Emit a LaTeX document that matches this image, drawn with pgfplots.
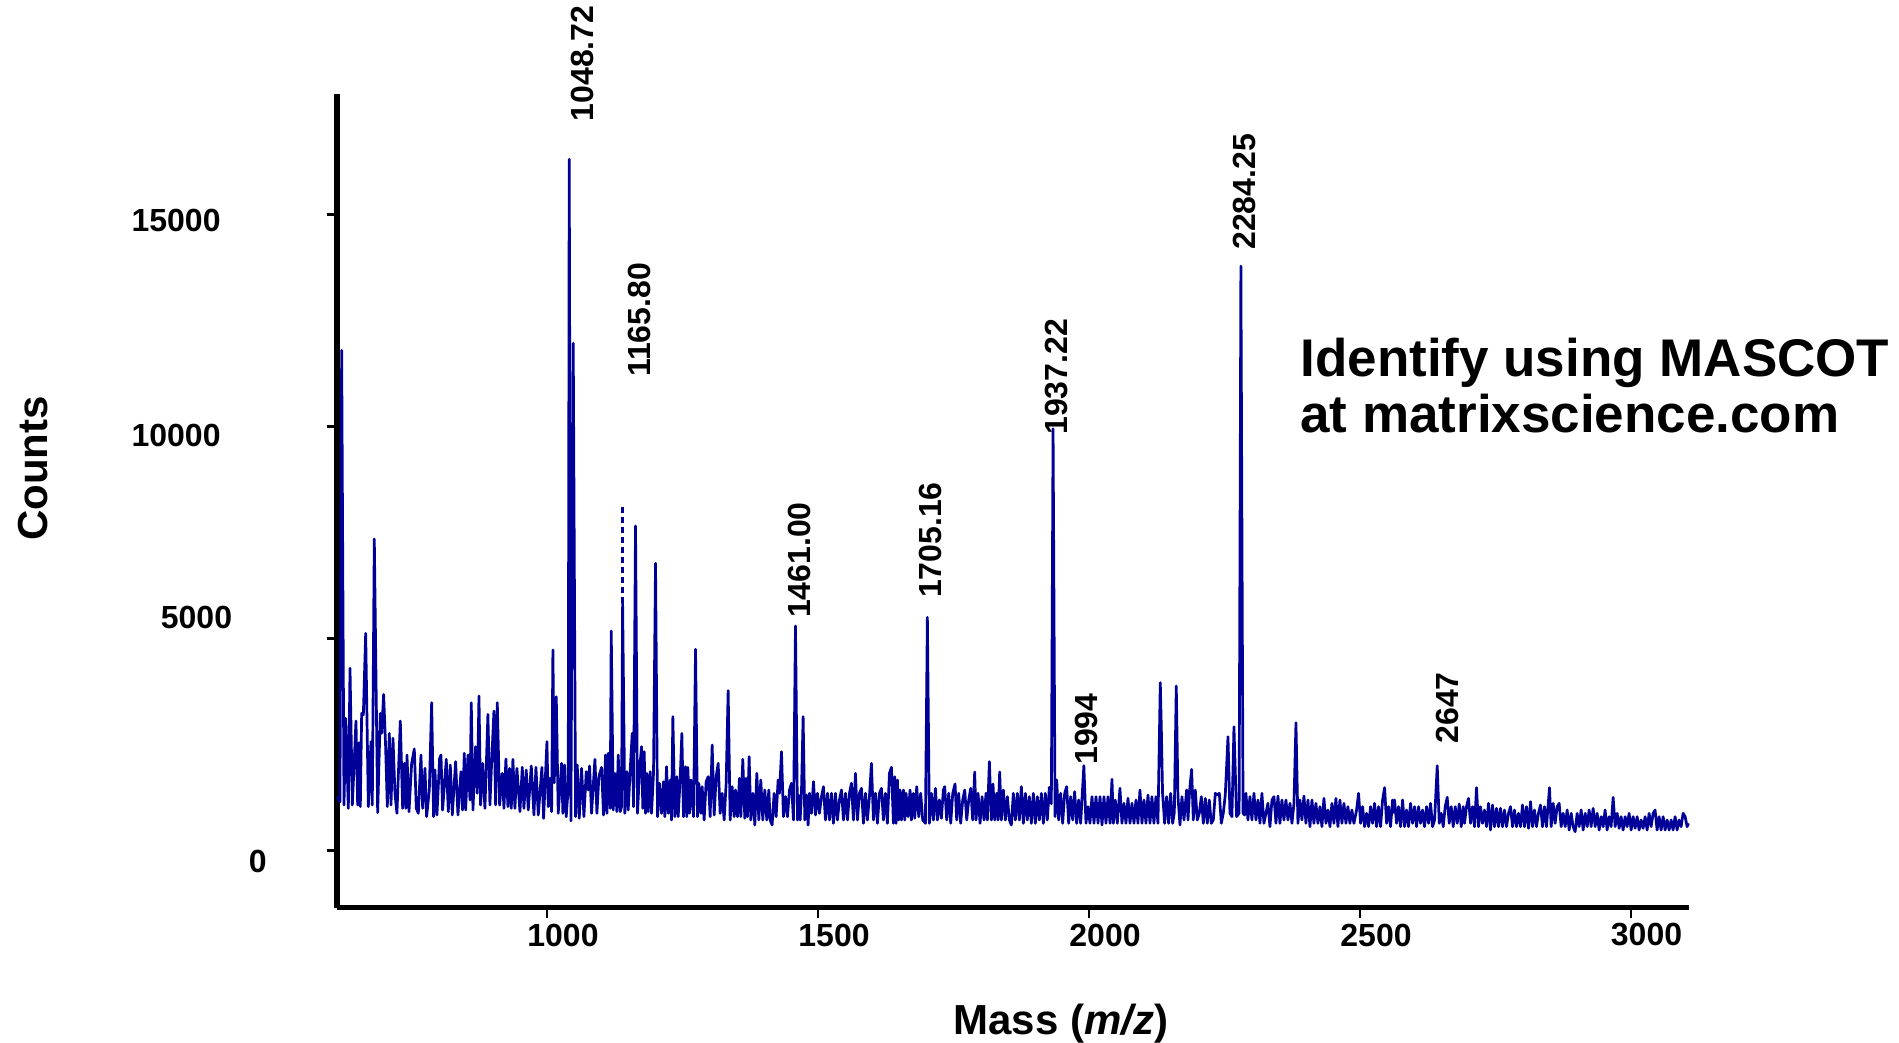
\documentclass[border=0pt]{standalone}
\usepackage{fontspec}
\setmainfont{Liberation Sans}
\usepackage{pgfplots}
\pgfplotsset{compat=1.18}
\definecolor{specblue}{RGB}{0,0,153}
\newcommand\myticklab{\fontsize{16pt}{19pt}\selectfont\bfseries}
\newcommand\myaxlab{\fontsize{21pt}{25pt}\selectfont\bfseries}
\newcommand\mynote{\fontsize{26.5pt}{32pt}\selectfont\bfseries}
\begin{document}
\begin{tikzpicture}
\useasboundingbox (0,0) rectangle (949.5pt,521.5pt);
\begin{axis}[
  at={(168.5pt,67.65pt)}, anchor=south west,
  scale only axis, width=676pt, height=406.6pt,
  xmin=612.8, xmax=3107, ymin=-1350, ymax=17837,
  axis lines=left, axis line style={-, line width=2.6pt, black},
  xtick={1000,1500,2000,2500,3000}, ytick={0,5000,10000,15000},
  scaled x ticks=false, scaled y ticks=false,
  xticklabels={}, yticklabels={},
  tick align=outside, major tick length=5pt,
  every tick/.style={black, line width=1.3pt},
  clip=false,
]
\addplot[specblue, line width=1.35pt, line join=round, mark=none] coordinates {
(613.5,1270) (618.3,1150) (621.4,11800) (625.7,1073) (628.8,3118) (633.7,994) (636.8,4298) (641.1,1073)
(647.8,3055) (650.9,1073) (653.4,2544) (655.8,1034) (658.3,3236) (661.4,3200) (665.7,5124) (670.6,1034)
(675.5,2568) (677.9,1073) (681.6,7349) (687.8,892) (692.7,3236) (695.2,2764) (698.8,3684) (702.5,2450)
(705.6,1034) (709.3,2764) (712.4,1073) (716.1,2646) (719.7,1349) (723.4,877) (729.6,3055) (733.9,994)
(737.0,2056) (740.0,994) (741.9,2253) (745.6,916) (750.5,2056) (755.4,2395) (759.1,994) (762.8,877)
(767.7,2253) (770.8,994) (775.1,1938) (778.1,798) (783.1,1427) (787.4,3488) (791.0,798) (793.5,1899)
(797.2,837) (802.1,2174) (804.6,2253) (807.6,955) (814.4,2151) (818.1,916) (821.8,2017) (825.5,837)
(831.6,2096) (835.9,837) (841.5,1860) (844.5,955) (847.6,2293) (850.1,955) (854.4,2253) (858.1,1191)
(860.5,3488) (863.6,955) (868.5,2450) (871.6,1349) (874.7,3645) (877.7,1073) (881.4,2056) (885.7,994)
(891.2,3213) (894.9,1073) (898.0,2056) (902.3,3291) (905.4,1073) (908.5,3488) (912.8,1073) (917.7,1820)
(920.8,994) (924.4,2159) (928.1,1034) (931.2,1938) (934.3,994) (937.3,2151) (941.0,994) (944.7,1938)
(950.3,916) (954.6,1962) (957.6,994) (961.9,1899) (965.6,955) (971.2,1993) (976.1,837) (979.8,1962)
(984.1,837) (990.8,1962) (993.9,759) (1000.1,2568) (1002.5,1034) (1005.6,1702) (1008.7,916) (1011.1,4731)
(1013.6,1600) (1017.3,3629) (1020.9,877) (1023.4,1349) (1027.1,2056) (1029.5,877) (1032.6,2017) (1035.7,798)
(1039.4,1500) (1041.2,16310) (1044.3,700) (1048.6,11970) (1052.9,798) (1056.0,2017) (1059.7,759) (1064.0,1938)
(1068.3,798) (1072.6,1860) (1076.3,1427) (1078.7,1993) (1082.4,877) (1088.6,2151) (1092.3,877) (1095.9,1742)
(1100.9,1962) (1104.5,837) (1108.2,2253) (1110.7,877) (1113.2,2293) (1116.8,994) (1118.7,5179) (1122.4,955)
(1125.5,1820) (1129.1,916) (1131.6,2253) (1135.3,916) (1137.7,1034) (1139.7,5832) (1143.8,877) (1147.5,1860)
(1150.0,955) (1153.7,1899) (1157.4,2764) (1159.8,1034) (1163.5,7656) (1167.2,877) (1170.9,1899) (1174.6,2450)
(1177.0,994) (1179.5,2332) (1181.9,877) (1184.4,1820) (1186.9,916) (1190.6,1860) (1193.0,877) (1196.7,1820)
(1200.4,6775) (1204.1,798) (1207.8,1585) (1211.5,877) (1215.1,1624) (1217.6,798) (1220.7,1978) (1223.8,877)
(1227.4,1663) (1229.9,719) (1232.4,3157) (1236.0,798) (1239.7,1742) (1242.2,798) (1245.9,1702) (1249.0,2764)
(1252.0,798) (1255.7,1978) (1258.2,798) (1260.0,1962) (1263.1,877) (1265.6,1663) (1270.5,798) (1274.2,4746)
(1277.8,798) (1280.3,1585) (1284.0,877) (1286.4,1506) (1290.1,719) (1293.8,1624) (1297.5,1742) (1301.2,798)
(1304.9,2489) (1308.6,837) (1312.3,1742) (1316.0,2056) (1319.6,877) (1323.3,1349) (1327.0,719) (1330.7,1585)
(1334.4,3771) (1338.1,719) (1341.8,1506) (1345.5,798) (1347.9,1427) (1351.6,798) (1355.3,1702) (1357.8,798)
(1361.4,2151) (1365.1,759) (1367.6,1702) (1370.1,798) (1373.1,2214) (1376.2,719) (1379.9,1349) (1383.6,601)
(1387.3,1820) (1391.0,719) (1394.6,1663) (1398.3,719) (1402.0,1427) (1405.7,719) (1409.4,1427) (1411.9,719)
(1415.5,601) (1419.2,1349) (1422.9,798) (1426.6,1663) (1429.1,1349) (1432.8,2332) (1436.4,798) (1440.1,1270)
(1443.8,798) (1447.5,1427) (1451.2,1585) (1454.9,719) (1458.6,5297) (1462.3,719) (1465.0,1300) (1467.2,719)
(1469.6,1349) (1472.7,3157) (1475.8,719) (1478.9,1309) (1481.9,601) (1484.4,1349) (1488.1,877) (1491.8,1624)
(1495.5,837) (1499.1,1349) (1502.8,877) (1506.5,1270) (1510.2,1506) (1513.9,719) (1517.6,1349) (1521.3,719)
(1525.0,1349) (1528.6,641) (1532.3,1349) (1536.0,719) (1539.7,1191) (1543.4,1427) (1547.1,719) (1550.8,1349)
(1554.5,719) (1558.2,1349) (1561.8,1585) (1565.5,719) (1569.2,1820) (1572.9,719) (1576.6,1349) (1580.3,1467)
(1584.0,641) (1587.7,1349) (1591.3,719) (1595.0,1270) (1598.7,2056) (1602.4,719) (1606.1,1349) (1609.8,641)
(1613.5,1349) (1617.2,1467) (1620.8,719) (1624.5,1349) (1628.2,641) (1631.9,1820) (1635.6,1962) (1639.3,641)
(1641.7,1742) (1644.2,641) (1646.6,1663) (1649.1,719) (1651.5,1427) (1654.0,719) (1657.7,1427) (1660.1,719)
(1662.6,1349) (1666.3,798) (1670.0,1427) (1672.4,719) (1676.1,1349) (1678.6,759) (1682.3,1506) (1686.0,798)
(1689.6,1349) (1693.3,719) (1698.3,641) (1701.9,5501) (1705.6,641) (1709.3,1349) (1713.0,719) (1716.7,1467)
(1720.4,719) (1724.1,1191) (1727.8,759) (1731.4,1427) (1733.9,1506) (1737.6,719) (1741.3,1349) (1745.0,641)
(1748.7,1349) (1753.0,1569) (1756.0,719) (1759.7,1349) (1763.4,641) (1767.1,1191) (1770.8,1427) (1774.5,719)
(1778.2,1191) (1781.9,1467) (1785.5,719) (1789.2,1852) (1791.7,719) (1795.4,1349) (1799.1,641) (1802.8,1270)
(1806.4,719) (1810.1,1349) (1812.6,719) (1816.3,2096) (1820.0,719) (1823.0,1569) (1826.1,719) (1829.8,1349)
(1832.3,719) (1835.3,1852) (1838.4,719) (1842.1,1427) (1845.8,719) (1849.5,1270) (1853.2,719) (1856.8,601)
(1860.5,1349) (1864.2,719) (1867.9,1349) (1871.6,719) (1875.3,1506) (1879.0,641) (1882.7,1349) (1886.3,719)
(1890.0,1270) (1893.7,641) (1897.4,1349) (1901.1,641) (1904.8,1270) (1908.5,719) (1912.2,1349) (1915.9,641)
(1919.5,1349) (1923.2,719) (1926.9,1490) (1930.6,1100) (1933.8,9950) (1937.5,800) (1940.5,1663) (1944.1,719)
(1947.8,1349) (1951.5,641) (1955.2,1349) (1958.9,1506) (1962.6,641) (1966.3,1270) (1970.0,719) (1973.6,1388)
(1977.3,641) (1981.0,1191) (1984.7,641) (1988.4,1500) (1990.6,2000) (1994.5,641) (1998.2,1034) (2001.9,641)
(2005.6,1270) (2009.3,641) (2013.0,1270) (2016.7,641) (2020.4,1270) (2024.1,601) (2027.7,1270) (2031.4,641)
(2035.1,1270) (2038.8,641) (2042.5,1679) (2045.0,641) (2048.6,1191) (2052.3,641) (2057.2,1467) (2060.9,641)
(2064.6,1112) (2068.3,641) (2072.0,1230) (2075.7,641) (2079.4,1112) (2083.1,641) (2086.7,1191) (2090.4,641)
(2094.1,1427) (2097.8,641) (2101.5,1191) (2105.2,641) (2108.9,1309) (2112.6,641) (2116.2,1270) (2119.9,641)
(2123.6,1270) (2127.3,641) (2131.6,3960) (2133.5,2900) (2135.8,1349) (2139.6,641) (2143.3,1270) (2147.0,641)
(2150.7,1349) (2154.4,641) (2157.5,900) (2161.1,3881) (2164.2,1270) (2167.9,601) (2171.6,1270) (2175.3,719)
(2180.2,1427) (2182.7,719) (2185.8,1427) (2189.4,1915) (2192.5,719) (2196.2,1427) (2199.9,719) (2203.6,877)
(2207.3,1270) (2211.0,641) (2214.7,1230) (2218.3,641) (2222.0,1191) (2225.7,641) (2229.4,719) (2233.1,1349)
(2236.8,1309) (2240.5,1349) (2244.2,641) (2247.8,877) (2251.5,1309) (2256.5,2686) (2260.1,877) (2263.8,798)
(2267.5,2921) (2272.4,798) (2277.0,877) (2280.3,13790) (2284.3,877) (2287.2,837) (2289.6,1349) (2293.3,719)
(2297.0,1270) (2300.7,719) (2304.4,1349) (2308.1,719) (2311.8,1191) (2315.5,641) (2319.1,1349) (2322.8,641)
(2326.5,877) (2330.2,1112) (2333.9,562) (2337.6,1191) (2341.3,1270) (2345.0,641) (2348.7,1286) (2352.3,641)
(2356.0,1191) (2359.7,719) (2363.4,1191) (2367.1,719) (2370.8,1112) (2374.5,641) (2378.2,1112) (2381.9,3016)
(2385.5,641) (2389.2,1191) (2392.9,719) (2396.6,1286) (2400.3,641) (2404.0,1191) (2407.7,562) (2411.4,1191)
(2415.0,641) (2418.7,1112) (2422.4,641) (2426.1,1034) (2429.8,562) (2433.5,1230) (2437.2,641) (2440.9,955)
(2444.6,562) (2448.2,1112) (2451.9,641) (2455.6,1230) (2459.3,562) (2463.0,1191) (2466.7,641) (2470.4,1112)
(2474.1,641) (2477.7,1034) (2481.4,641) (2485.1,955) (2488.8,641) (2493.7,955) (2497.4,1349) (2501.1,641)
(2504.8,1034) (2508.5,562) (2512.2,877) (2515.9,562) (2519.5,1034) (2523.2,641) (2526.9,1112) (2530.6,562)
(2534.3,1034) (2538.0,562) (2541.7,1191) (2545.4,1482) (2549.1,641) (2552.7,1034) (2556.4,562) (2560.1,1191)
(2562.0,900) (2563.8,1191) (2567.5,641) (2571.2,1034) (2574.9,562) (2578.6,1191) (2582.3,562) (2585.9,955)
(2589.6,562) (2593.3,1112) (2597.0,641) (2600.7,1034) (2604.4,562) (2608.1,1034) (2611.8,641) (2615.4,955)
(2619.1,562) (2622.8,1034) (2626.5,641) (2630.2,1112) (2633.9,562) (2637.6,719) (2642.5,2001) (2646.2,641)
(2649.9,877) (2653.6,562) (2657.2,1034) (2660.9,1254) (2664.6,641) (2668.3,1034) (2672.0,562) (2675.7,1034)
(2679.4,641) (2683.1,1097) (2686.8,562) (2690.4,1034) (2692.8,641) (2696.5,1034) (2700.2,1230) (2703.9,641)
(2707.6,1034) (2711.3,562) (2715.0,1482) (2718.7,562) (2722.3,1034) (2726.0,641) (2729.7,955) (2733.4,562)
(2737.1,1112) (2740.8,483) (2744.5,1073) (2748.2,562) (2751.9,994) (2755.5,562) (2759.2,994) (2762.9,562)
(2766.6,955) (2770.3,562) (2774.0,877) (2777.7,1034) (2781.4,562) (2785.0,955) (2788.7,562) (2792.4,877)
(2796.1,562) (2799.8,1073) (2803.5,562) (2807.2,1034) (2810.9,523) (2814.6,1152) (2818.2,562) (2821.9,955)
(2825.6,562) (2829.3,877) (2833.0,1073) (2836.7,562) (2840.4,1034) (2844.1,562) (2849.6,1482) (2852.7,562)
(2856.4,1112) (2860.0,641) (2863.7,1034) (2867.4,1112) (2871.1,562) (2874.8,877) (2878.5,562) (2882.2,955)
(2885.9,483) (2889.6,877) (2893.2,562) (2896.9,444) (2900.6,877) (2904.3,562) (2908.0,955) (2911.7,483)
(2915.4,877) (2919.1,562) (2922.7,955) (2926.4,562) (2930.1,994) (2933.8,562) (2937.5,877) (2941.2,483)
(2944.9,798) (2948.6,562) (2952.2,955) (2955.9,483) (2959.6,798) (2963.3,562) (2967.0,1254) (2970.7,562)
(2974.4,877) (2978.1,523) (2981.7,798) (2985.4,483) (2989.1,798) (2992.8,562) (2996.5,877) (3000.2,483)
(3003.9,798) (3007.6,523) (3011.3,798) (3014.9,483) (3018.6,719) (3022.3,523) (3026.0,798) (3029.7,483)
(3033.4,877) (3037.1,562) (3040.8,877) (3044.4,955) (3048.1,483) (3051.8,798) (3055.5,483) (3059.2,798)
(3062.9,483) (3066.6,719) (3070.3,483) (3074.0,719) (3077.6,483) (3081.3,798) (3085.0,483) (3088.7,719)
(3092.4,562) (3096.1,877) (3099.8,798) (3103.5,562) (3105.9,641)
};
\addplot[specblue, line width=1.35pt, dash pattern=on 3pt off 2pt, mark=none] coordinates {(1139.7,5832) (1139.7,8111)};
\node[rotate=90, anchor=west, inner sep=0pt, font=\myticklab] at (axis cs:1065.5,17195) {1048.72};
\node[rotate=90, anchor=west, inner sep=0pt, font=\myticklab] at (axis cs:1170.6,11164) {1165.80};
\node[rotate=90, anchor=west, inner sep=0pt, font=\myticklab] at (axis cs:1466.6,5478) {1461.00};
\node[rotate=90, anchor=west, inner sep=0pt, font=\myticklab] at (axis cs:1708.1,5950) {1705.16};
\node[rotate=90, anchor=west, inner sep=0pt, font=\myticklab] at (axis cs:1940.5,9803) {1937.22};
\node[rotate=90, anchor=west, inner sep=0pt, font=\myticklab] at (axis cs:1994.8,2017) {1994};
\node[rotate=90, anchor=west, inner sep=0pt, font=\myticklab] at (axis cs:2287.1,14168) {2284.25};
\node[rotate=90, anchor=west, inner sep=0pt, font=\myticklab] at (axis cs:2660.7,2513) {2647};
\end{axis}
\node[anchor=east, inner sep=0pt, font=\myticklab] at (110.5pt,411.5pt) {15000};
\node[anchor=east, inner sep=0pt, font=\myticklab] at (110.5pt,304pt) {10000};
\node[anchor=east, inner sep=0pt, font=\myticklab] at (116.25pt,213pt) {5000};
\node[anchor=east, inner sep=0pt, font=\myticklab] at (133.5pt,90.75pt) {0};
\node[inner sep=0pt, font=\myticklab] at (281.5pt,54pt) {1000};
\node[inner sep=0pt, font=\myticklab] at (417pt,54pt) {1500};
\node[inner sep=0pt, font=\myticklab] at (552.5pt,54pt) {2000};
\node[inner sep=0pt, font=\myticklab] at (688pt,54pt) {2500};
\node[inner sep=0pt, font=\myticklab] at (823.25pt,54pt) {3000};
\node[rotate=90, inner sep=0pt, font=\myaxlab] at (16.7pt,287.2pt) {Counts};
\node[anchor=base, inner sep=0pt, font=\myaxlab] at (530.4pt,4pt) {Mass ({\itshape m/z})};
\node[anchor=base west, inner sep=0pt, font=\mynote] at (650pt,333pt) {Identify using MASCOT};
\node[anchor=base west, inner sep=0pt, font=\mynote] at (650pt,305pt) {at matrixscience.com};
\end{tikzpicture}
\end{document}
